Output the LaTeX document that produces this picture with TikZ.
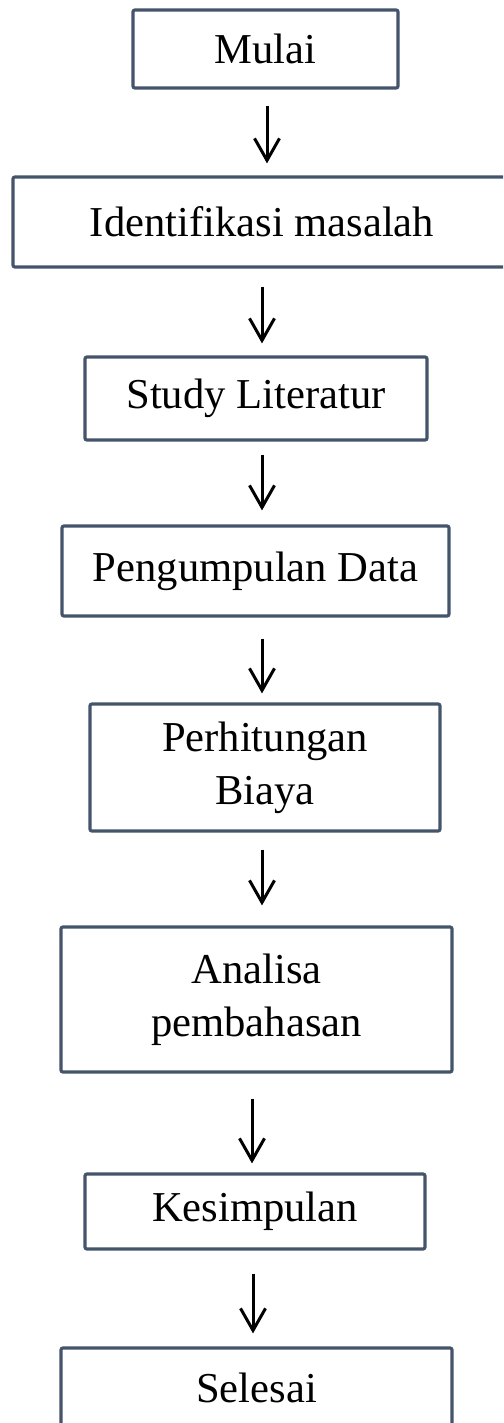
\documentclass[tikz,border=0pt]{standalone}
\usepackage{fontspec}
\setmainfont{Liberation Serif}
\usetikzlibrary{arrows.meta}
\definecolor{boxline}{HTML}{44546A}

\begin{document}
\begin{tikzpicture}[x=0.5pt, y=-0.5pt,
	box/.style={draw=boxline, line width=1.6pt, rounded corners=1pt, align=center, inner sep=0pt,
		font=\fontsize{21.3}{26.5}\selectfont},
	arr/.style={-{Straight Barb[length=11pt, width=12.5pt]}, line width=1.5pt}]
	\clip (0,0) rectangle (503,1423);

	\node[box, minimum width=132.5pt, minimum height=39pt] (mulai) at (265.5,49) {Mulai};
	\node[box, minimum width=249pt, minimum height=45pt] (ident) at (262,222) {Identifikasi masalah};
	\node[box, minimum width=171pt, minimum height=41.5pt] (study) at (256,398.5) {Study Literatur};
	\node[box, minimum width=193.5pt, minimum height=45pt] (kumpul) at (255.5,571) {Pengumpulan Data};
	\node[box, minimum width=175pt, minimum height=63.5pt] (hitung) at (265,767.5) {Perhitungan\\Biaya};
	\node[box, minimum width=195.5pt, minimum height=72.5pt] (analisa) at (256.5,999.5) {Analisa\\pembahasan};
	\node[box, minimum width=170pt, minimum height=37.5pt] (simpul) at (255,1211.5) {Kesimpulan};
	\node[box, minimum width=195.5pt, minimum height=40pt] (selesai) at (256.5,1388) {Selesai};

	% arrows: from / to / x / gap at start / gap at end
	\foreach \a/\b/\x/\s/\e in {mulai/ident/267/16/12, ident/study/262/18/12, study/kumpul/262/13/14,
		kumpul/hitung/262/21/9, hitung/analisa/262/17/20, analisa/simpul/252/25/9, simpul/selesai/253/23/13}{
		\draw[arr, shorten <=\s*0.5pt, shorten >=\e*0.5pt] (\x,0 |- \a.south) -- (\x,0 |- \b.north);
	}
\end{tikzpicture}
\end{document}
